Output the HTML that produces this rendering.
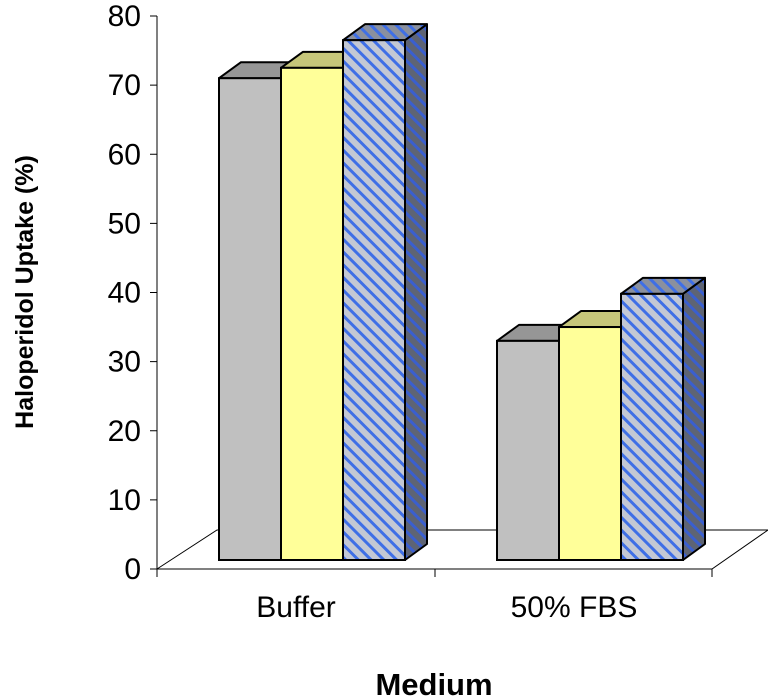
<!DOCTYPE html>
<html><head><meta charset="utf-8"><style>
body{margin:0;background:#fff;}
svg{display:block;font-family:"Liberation Sans",Arial,sans-serif;}
.tick{font-size:30px;}
.cat{font-size:30px;}
.ttl{font-weight:bold;}
</style></head><body>
<svg id="chart" width="768" height="698" viewBox="0 0 768 698">
<defs>
<pattern id="hatch" patternUnits="userSpaceOnUse" width="9" height="9" patternTransform="rotate(-45)">
<rect width="9" height="9" fill="#c3c8d4"/><rect width="3" height="9" fill="#3f6fe6"/>
</pattern>
<pattern id="hatchTop" patternUnits="userSpaceOnUse" width="9" height="9" patternTransform="rotate(-45)">
<rect width="9" height="9" fill="#8a909e"/><rect width="3" height="9" fill="#3f6fe6"/>
</pattern>
<pattern id="hatchSide" patternUnits="userSpaceOnUse" width="9" height="9" patternTransform="rotate(-45)">
<rect width="9" height="9" fill="#5e6474"/><rect width="3" height="9" fill="#3a5fcf"/>
</pattern>
</defs>
<g id="floor"></g>
<g id="axis"></g>
<g id="bars"></g>
<g id="cats"></g>
<text class="ttl" transform="translate(33,292) rotate(-90)" text-anchor="middle" style="font-size:25px">Haloperidol Uptake (%)</text>
<text class="ttl" x="434" y="695" text-anchor="middle" style="font-size:31px">Medium</text>
</svg>
<script>
const categories = ["Buffer", "50% FBS"];
const series1 = [69.7, 31.7];
const series2 = [71.2, 33.7];
const series3 = [75.2, 38.5];
const yTicks = [0,10,20,30,40,50,60,70,80];

const NS="http://www.w3.org/2000/svg";
function mk(tag,attrs,parent){const e=document.createElementNS(NS,tag);for(const k in attrs)e.setAttribute(k,attrs[k]);parent.appendChild(e);return e;}
const axisY=v=>569-v*(553/80);
const barY=v=>560-v*(553/80);
const groupX=i=>219+i*278;
const BW=62, DX=22, DY=-16;

const floor=document.getElementById('floor');
const fl=mk('polygon',{points:"157,569 217,530 768,530 712,569",fill:"#fff",stroke:"#000","stroke-width":"1"},floor);



const axis=document.getElementById('axis');
mk('line',{x1:157,y1:16,x2:157,y2:569,stroke:"#000"},axis);
yTicks.forEach(t=>{
  const y=axisY(t);
  mk('line',{x1:150,y1:y,x2:157,y2:y,stroke:"#000"},axis);
  const tx=mk('text',{x:141,y:y+10,"text-anchor":"end","class":"tick"},axis);
  tx.textContent=String(t);
  
  
});
[157,435,712].forEach(x=>mk('line',{x1:x,y1:569,x2:x,y2:577,stroke:"#000"},axis));

const bars=document.getElementById('bars');
const styles=[
 {front:"#c0c0c0",top:"#969696",side:"#808080"},
 {front:"#ffff99",top:"#c6c67a",side:"#b0b060"},
 {front:"url(#hatch)",top:"url(#hatchTop)",side:"url(#hatchSide)"}];
const all=[series1,series2,series3];
categories.forEach((c,i)=>{
  all.forEach((s,j)=>{
    const x=groupX(i)+j*BW, y=barY(s[i]), yb=560, st=styles[j];
    const g=mk('g',{},bars);
    
    
    mk('polygon',{points:`${x+BW},${y} ${x+BW+DX},${y+DY} ${x+BW+DX},${yb+DY} ${x+BW},${yb}`,fill:st.side,stroke:"#000","stroke-width":"2","stroke-linejoin":"round"},g);
    mk('polygon',{points:`${x},${y} ${x+DX},${y+DY} ${x+BW+DX},${y+DY} ${x+BW},${y}`,fill:st.top,stroke:"#000","stroke-width":"2","stroke-linejoin":"round"},g);
    mk('rect',{x:x,y:y,width:BW,height:yb-y,fill:st.front,stroke:"#000","stroke-width":"2"},g);
  });
  const t=mk('text',{x:groupX(i)+77,y:617,"text-anchor":"middle","class":"cat"},document.getElementById('cats'));
  t.textContent=c;
  
  
});
</script>
</body></html>
